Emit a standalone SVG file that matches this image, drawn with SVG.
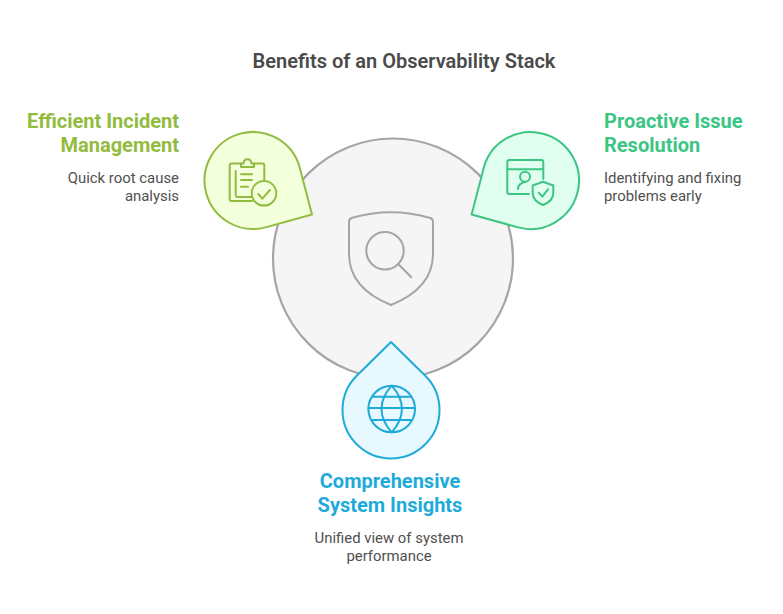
<svg xmlns="http://www.w3.org/2000/svg" width="783" height="614" viewBox="0 0 783 614">
<style>
text{font-family:Roboto,"Liberation Sans",sans-serif}
.t{font-size:20px;font-weight:600;fill:#4A4A4A}
.h{font-size:20px;font-weight:700}
.d{font-size:14.9px;fill:#505050}
.ic{fill:none;stroke-width:2;stroke-linecap:round;stroke-linejoin:round}
.g{fill:#92BC3F;stroke:none}.gs{stroke:#92BC3F}
.e{fill:#3CC583}.es{stroke:#3CC583}
.b{fill:#1EABDA}.bs{stroke:#1EABDA}
</style>
<rect width="783" height="614" fill="#fff"/>
<text class="t" x="404" y="67.500" text-anchor="middle">Benefits of an Observability Stack</text>
<g id="hub">
<circle cx="393" cy="258.500" r="120" fill="#F5F5F5" stroke="#A5A5A5" stroke-width="2.200"/>
<path class="ic" stroke="#A5A5A5" d="M349 222Q349 219 351.500 218Q391 206.500 430.500 218Q433 219 433 222V254Q433 288 391 305Q349 288 349 254Z"/>
<circle class="ic" stroke="#A5A5A5" cx="385" cy="250.700" r="18.700"/>
<path class="ic" stroke="#A5A5A5" d="M398.300 264L411.300 277.300"/>
</g>
<g id="efficient-incident-management">
<path fill="#F4FFDC" stroke="#92BC3F" stroke-width="2" stroke-linejoin="round" d="M312 214.500L265.550 227.350A48.500 48.500 0 1 1 299.850 167.900Z"/>
<g class="ic gs">
<path d="M252 201H231.500Q229.700 201 229.700 199V165.500Q229.700 163.500 231.500 163.500H241M254 163.500H262.500Q264.300 163.500 264.300 165.500V180"/>
<path d="M241 165.500V163.500H243.500Q244 159.300 247.500 159.300Q251 159.300 251.500 163.500H254V167H241Z"/>
<path d="M252 197H237.500Q235.700 197 235.700 195V171"/>
<path d="M241 174.300H252M241 180H252M241 186.700H248"/>
<circle cx="264" cy="193.300" r="12.300"/>
<path d="M258.300 194L262.300 198.700L270 190"/>
</g>
<text class="h g" text-anchor="end"><tspan x="179" y="128">Efficient Incident</tspan><tspan x="179" y="152">Management</tspan></text>
<text class="d" text-anchor="end"><tspan x="179" y="183">Quick root cause</tspan><tspan x="179" y="201">analysis</tspan></text>
</g>
<g id="proactive-issue-resolution">
<path fill="#E1FFF0" stroke="#3CC583" stroke-width="2" stroke-linejoin="round" d="M471.600 214.500L483.700 167.900A48.500 48.500 0 1 1 517.950 227.350Z"/>
<g class="ic es">
<path d="M529 194H509.300Q507.300 194 507.300 192V162Q507.300 160 509.300 160H541.300Q543.300 160 543.300 162V179"/>
<path d="M507.300 169.300H543.300"/>
<circle cx="525" cy="176.700" r="5"/>
<path d="M518 189Q518 183.500 525 182"/>
<path d="M543 181.700L553.300 185.500V193Q553.300 201 543 205Q532.700 201 532.700 193V185.500Z"/>
<path d="M538.700 192.700L542.300 196.700L548 189.300"/>
</g>
<text class="h e"><tspan x="604" y="128">Proactive Issue</tspan><tspan x="604" y="152">Resolution</tspan></text>
<text class="d"><tspan x="604" y="183">Identifying and fixing</tspan><tspan x="604" y="201">problems early</tspan></text>
</g>
<g id="comprehensive-system-insights">
<path fill="#E7F8FF" stroke="#1EABDA" stroke-width="2" stroke-linejoin="round" d="M391 342L425.300 375.700A48.500 48.500 0 1 1 356.700 375.700Z"/>
<g class="ic bs">
<circle cx="391.700" cy="409" r="23.300"/>
<path d="M391.700 385.700Q381.500 397 381.500 409Q381.500 421 391.700 432.300Q401.900 421 401.900 409Q401.900 397 391.700 385.700Z"/>
<path d="M372.500 396.800H411M368.400 408H415M372.500 420H411"/>
</g>
<text class="h b" text-anchor="middle"><tspan x="390" y="488">Comprehensive</tspan><tspan x="390" y="512">System Insights</tspan></text>
<text class="d" text-anchor="middle"><tspan x="389" y="543">Unified view of system</tspan><tspan x="389" y="561">performance</tspan></text>
</g>
<g id="connectors"></g>
</svg>
